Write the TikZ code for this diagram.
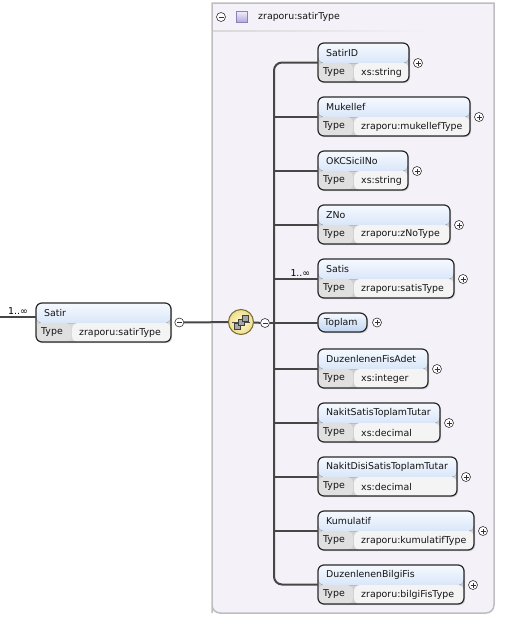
\documentclass[tikz,border=0pt]{standalone}
\usepackage{fontspec}
\setmainfont{DejaVu Sans}
\usetikzlibrary{positioning,shadows,calc}

\definecolor{boxline}{RGB}{40,40,40}
\definecolor{connline}{RGB}{70,70,70}
\definecolor{hdtop}{RGB}{246,250,255}
\definecolor{hdbot}{RGB}{190,212,242}
\definecolor{typecell}{RGB}{224,224,224}
\definecolor{valcell}{RGB}{244,244,244}
\definecolor{bgcol}{RGB}{244,242,248}
\definecolor{framecol}{RGB}{190,190,192}
\definecolor{seqin}{RGB}{255,250,205}
\definecolor{seqout}{RGB}{238,222,140}
\definecolor{seqline}{RGB}{120,105,50}
\definecolor{icontop}{RGB}{240,236,250}
\definecolor{iconbot}{RGB}{178,166,220}
\definecolor{iconline}{RGB}{140,130,180}

% element box: id, placement, width, name, type
\newcommand{\xsdelem}[5]{%
  \node[elembox, minimum width=#3, #2] (#1) {};
  \node[nametext] (#1-name) at ([xshift=8pt,yshift=-10pt]#1.north west) {#4};
  \node[nametext] (#1-type) at ([xshift=5pt,yshift=-29.5pt]#1.north west) {Type};
  \node[nametext] (#1-val) at ([xshift=43pt,yshift=-29.5pt]#1.north west) {#5};
  \node[plusbtn] (#1-plus) at ([xshift=9pt,yshift=-20pt]#1.north east) {};
}

\begin{document}
\begin{tikzpicture}[x=1pt, y=-1pt, font=\fontsize{9.4}{11}\selectfont,
    conn/.style={draw=connline, line width=2pt},
    elembox/.style={draw=boxline, line width=1.2pt, rounded corners=6pt, anchor=north west,
      minimum height=39pt, inner sep=0pt, outer sep=0pt,
      drop shadow={shadow xshift=1.2pt, shadow yshift=-1.2pt, opacity=0.3},
      path picture={
        \fill[top color=hdtop, bottom color=hdbot] (path picture bounding box.north west)
          rectangle ([yshift=-20pt]path picture bounding box.north east);
        \fill[typecell] ([yshift=-20pt]path picture bounding box.north west)
          rectangle ([xshift=35pt]path picture bounding box.south west);
        \fill[valcell] ([xshift=36pt,yshift=-20pt]path picture bounding box.north west)
          rectangle (path picture bounding box.south east);
      }},
    elemsingle/.style={draw=boxline, line width=1.2pt, rounded corners=7pt, anchor=north west,
      minimum height=19pt, inner sep=0pt, outer sep=0pt, top color=hdtop, bottom color=hdbot,
      drop shadow={shadow xshift=1.2pt, shadow yshift=-1.2pt, opacity=0.3}},
    nametext/.style={anchor=west, inner sep=0pt, text=black!92},
    btn/.style={circle, draw=black!80, fill=white, line width=0.6pt, minimum size=9pt, inner sep=0pt},
    minusbtn/.style={btn, path picture={
        \draw[line width=0.7pt] ([xshift=-2.5pt]path picture bounding box.center)
          -- ([xshift=2.5pt]path picture bounding box.center);}},
    plusbtn/.style={btn, path picture={
        \draw[line width=0.7pt] ([xshift=-2.5pt]path picture bounding box.center)
          -- ([xshift=2.5pt]path picture bounding box.center);
        \draw[line width=0.7pt] ([yshift=-2.5pt]path picture bounding box.center)
          -- ([yshift=2.5pt]path picture bounding box.center);}},
    seqicon/.style={circle, draw=seqline, line width=1pt, minimum size=25pt, inner sep=0pt,
      inner color=seqin, outer color=seqout},
    iconsq/.style={draw=black!75, fill=black!35, line width=0.6pt},
    typeicon/.style={draw=iconline, line width=0.6pt, minimum size=11pt, inner sep=0pt,
      top color=icontop, bottom color=iconbot}]

    \useasboundingbox (0,0) rectangle (504,621);

    % complex type frame
    \filldraw[fill=bgcol, draw=framecol, line width=1.5pt]
      (212,613) -- (212,3) -- (494,3) {[rounded corners=8pt] -- (494,613) -- (212,613)} -- cycle;
    \shade[left color=black!15, right color=bgcol] (213,30) rectangle (430,31.2);
    \node[minusbtn] (hd-minus) at (221,17) {};
    \node[typeicon] (hd-icon) at (242,17) {};
    \node[nametext] (hd-title) at (258,17) {zraporu:satirType};

    % parent element
    \node[elembox, minimum width=135pt, at={(36,303)}] (satir) {};
    \node[nametext] (satir-name) at ([xshift=8pt,yshift=-10pt]satir.north west) {Satir};
    \node[nametext] (satir-type) at ([xshift=5pt,yshift=-29.5pt]satir.north west) {Type};
    \node[nametext] (satir-val) at ([xshift=43pt,yshift=-29.5pt]satir.north west) {zraporu:satirType};
    \node[minusbtn, right=3.5pt of satir.east] (satir-minus) {};
    \coordinate (entry) at (0,317);
    \draw[conn] (entry) -- node[above, inner sep=1.5pt] (satir-occ) {1..∞} (entry -| satir.west);

    % sequence compositor
    \node[seqicon] (seq) at (241,322) {};
    \begin{scope}[shift={(seq.center)}]
      \draw[line width=0.9pt, black!70] (-9,0) -- (9,0);
      \foreach \a/\b in {-7/1, -3/-3, 1/-7}
        \draw[iconsq] (\a,\b) rectangle +(6,6);
    \end{scope}
    \node[minusbtn] (seq-minus) at (265,323) {};
    \coordinate (bar) at (274,323);

    % child elements
    \xsdelem{satirid}{at={(318,43)}}{91pt}{SatirID}{xs:string}
    \xsdelem{mukellef}{below right=15pt and 0pt of satirid.south west}{152pt}{Mukellef}{zraporu:mukellefType}
    \xsdelem{okcsicilno}{below right=15pt and 0pt of mukellef.south west}{90pt}{OKCSicilNo}{xs:string}
    \xsdelem{zno}{below right=15pt and 0pt of okcsicilno.south west}{132pt}{ZNo}{zraporu:zNoType}
    \xsdelem{satis}{below right=15pt and 0pt of zno.south west}{136pt}{Satis}{zraporu:satisType}
    \node[elemsingle, minimum width=49pt, below right=15pt and 0pt of satis.south west] (toplam) {};
    \node[nametext] (toplam-name) at ([xshift=6pt]toplam.west) {Toplam};
    \node[plusbtn] (toplam-plus) at ([xshift=10pt]toplam.east) {};
    \xsdelem{fisadet}{below right=17pt and 0pt of toplam.south west}{110pt}{DuzenlenenFisAdet}{xs:integer}
    \xsdelem{nakitsatis}{below right=15pt and 0pt of fisadet.south west}{122pt}{NakitSatisToplamTutar}{xs:decimal}
    \xsdelem{nakitdisi}{below right=15pt and 0pt of nakitsatis.south west}{139pt}{NakitDisiSatisToplamTutar}{xs:decimal}
    \xsdelem{kumulatif}{below right=15pt and 0pt of nakitdisi.south west}{156pt}{Kumulatif}{zraporu:kumulatifType}
    \xsdelem{bilgifis}{below right=15pt and 0pt of kumulatif.south west}{146pt}{DuzenlenenBilgiFis}{zraporu:bilgiFisType}

    % connectors
    \draw[conn] (satir-minus) -- (seq);
    \draw[conn] (seq) -- (seq-minus);
    \draw[conn] (seq-minus) -- (bar);
    \draw[conn, rounded corners=8pt] (bar) |- (satirid.west);
    \draw[conn, rounded corners=8pt] (bar) |- (bilgifis.west);
    \draw[conn] (bar |- mukellef.west) -- (mukellef.west);
    \draw[conn] (bar |- okcsicilno.west) -- (okcsicilno.west);
    \draw[conn] (bar |- zno.west) -- (zno.west);
    \draw[conn] (bar |- satis.west) -- node[above, pos=0.6, inner sep=1.5pt] (satis-occ) {1..∞} (satis.west);
    \draw[conn] (bar |- toplam.west) -- (toplam.west);
    \draw[conn] (bar |- fisadet.west) -- (fisadet.west);
    \draw[conn] (bar |- nakitsatis.west) -- (nakitsatis.west);
    \draw[conn] (bar |- nakitdisi.west) -- (nakitdisi.west);
    \draw[conn] (bar |- kumulatif.west) -- (kumulatif.west);
\end{tikzpicture}
\end{document}
